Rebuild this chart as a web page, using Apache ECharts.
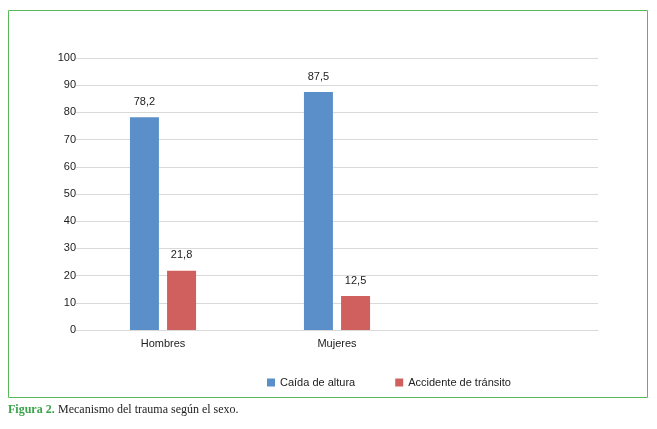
<!DOCTYPE html>
<html><head><meta charset="utf-8">
<script src="https://cdn.jsdelivr.net/npm/echarts@6/dist/echarts.min.js"></script>
<style>body{margin:0;background:#fff}#c{width:657px;height:429px}</style>
</head><body><div id="c"></div>
<script>
var categories = ['Hombres', 'Mujeres', ''];
var caida = [78.2, 87.5, null];
var accidente = [21.8, 12.5, null];
var fmt = function (p) { return String(p.value).replace('.', ','); };

var chart = echarts.init(document.getElementById('c'));
chart.setOption({
    animation: false,
    textStyle: { fontFamily: 'Liberation Sans, Arial' },
    grid: { left: 76, right: 59, top: 58, bottom: 99 },
    legend: {
        bottom: 36, left: 262, itemWidth: 8, itemHeight: 8, icon: 'rect',
        itemGap: 40, textStyle: { fontSize: 11, color: '#222' }
    },
    xAxis: {
        type: 'category', data: categories,
        axisTick: { show: false },
        axisLine: { lineStyle: { color: '#d9d9d9' } },
        axisLabel: { color: '#222', fontSize: 11 }
    },
    yAxis: {
        type: 'value', min: 0, max: 100, interval: 10,
        axisLabel: { color: '#222', fontSize: 11, margin: 0 },
        splitLine: { lineStyle: { color: '#d9d9d9' } }
    },
    series: [
        { name: 'Caída de altura', type: 'bar', data: caida, barWidth: 29, barGap: '28%',
          itemStyle: { color: '#5b8fc9' },
          label: { show: true, position: 'top', distance: 10, color: '#222', fontSize: 11, formatter: fmt } },
        { name: 'Accidente de tránsito', type: 'bar', data: accidente, barWidth: 29,
          itemStyle: { color: '#d0605e' },
          label: { show: true, position: 'top', distance: 10, color: '#222', fontSize: 11, formatter: fmt } }
    ],
    graphic: [
        { type: 'rect', shape: { x: 8.5, y: 10.5, width: 639, height: 387 },
          style: { fill: 'none', stroke: '#5cb85c', lineWidth: 1 } },
        { type: 'text', left: 8, top: 404,
          style: { rich: { g: { fill: '#3aa34a', fontWeight: 'bold', fontFamily: 'Liberation Serif', fontSize: 12 },
                           n: { fill: '#222', fontFamily: 'Liberation Serif', fontSize: 12 } },
                   text: '{g|Figura 2.} {n|Mecanismo del trauma según el sexo.}' } }
    ]
});
</script></body></html>
